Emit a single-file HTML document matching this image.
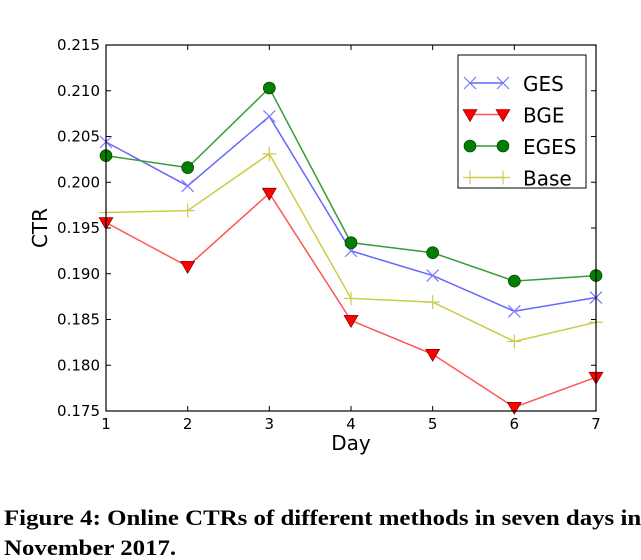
<!DOCTYPE html>
<html><head><meta charset="utf-8"><style>
body{margin:0;background:#fff;width:641px;height:560px;overflow:hidden}
svg{position:absolute;left:0;top:0}
text{font-family:"DejaVu Sans","Liberation Sans",sans-serif}
.cap{position:absolute;left:4px;font-family:"Liberation Serif",serif;font-weight:bold;font-size:22px;line-height:22px;white-space:nowrap;color:#000;transform-origin:0 0;transform:scaleX(1.13)}
</style></head><body>
<svg id="chart" width="641" height="480"></svg>
<div class="cap" style="top:507px">Figure 4: Online CTRs of different methods in seven days in</div>
<div class="cap" style="top:537px">November 2017.</div>
<script>
const days=[1,2,3,4,5,6,7];
const yTicks=[0.175,0.180,0.185,0.190,0.195,0.200,0.205,0.210,0.215];
const ges=[0.2044,0.1996,0.2072,0.1925,0.1898,0.1859,0.1874];
const bge=[0.1956,0.1908,0.1988,0.1849,0.1812,0.1754,0.1787];
const eges=[0.2029,0.2016,0.2103,0.1934,0.1923,0.1892,0.1898];
const base=[0.1967,0.1969,0.2031,0.1873,0.1869,0.1826,0.1847];
const L=106,R=596,T=45,B=411,ymin=0.175,ymax=0.215;
const X=d=>L+(d-1)/6*(R-L);
const Y=v=>B-(v-ymin)/(ymax-ymin)*(B-T);
const svg=document.getElementById('chart');const NS='http://www.w3.org/2000/svg';
function el(t,a,p){const e=document.createElementNS(NS,t);for(const k in a)e.setAttribute(k,a[k]);(p||svg).appendChild(e);return e;}
yTicks.forEach(v=>{const y=Y(v);
const a=el('line',{x1:L,x2:L+5,y1:y,y2:y,stroke:'#000'});
el('line',{x1:R-5,x2:R,y1:y,y2:y,stroke:'#000'});
const t=el('text',{x:L-6,y:y+5,'text-anchor':'end','font-size':15});t.textContent=v.toFixed(3);
});
days.forEach(d=>{const x=X(d);
el('line',{x1:x,x2:x,y1:B,y2:B-5,stroke:'#000'});el('line',{x1:x,x2:x,y1:T,y2:T+5,stroke:'#000'});
const t=el('text',{x:x,y:B+18,'text-anchor':'middle','font-size':15});t.textContent=d;
});
const xt=el('text',{x:(L+R)/2,y:450,'text-anchor':'middle','font-size':20});xt.textContent='Day';

const yt=el('text',{x:0,y:0,'text-anchor':'middle','font-size':20,transform:`translate(47,${(T+B)/2}) rotate(-90)`});yt.textContent='CTR';

function marker(type,x,y,g){
 if(type==='x'){el('path',{d:`M${x-6},${y-6}L${x+6},${y+6}M${x-6},${y+6}L${x+6},${y-6}`,stroke:'#7777ff','stroke-width':1.2,fill:'none'},g);}
 else if(type==='v'){el('path',{d:`M${x-7},${y-5}L${x+7},${y-5}L${x},${y+7}Z`,fill:'#ff0000',stroke:'#600',"stroke-width":0.6},g);}
 else if(type==='o'){el('circle',{cx:x,cy:y,r:6,fill:'#007f00',stroke:'#003000','stroke-width':0.6},g);}
 else {el('path',{d:`M${x-7},${y}L${x+7},${y}M${x},${y-7}L${x},${y+7}`,stroke:'#cccc55','stroke-width':1.2},g);}
}
const series=[['GES',ges,'#6666ff','x'],['BGE',bge,'#ff5555','v'],['EGES',eges,'#3a9a3a','o'],['Base',base,'#cccc44','+']];
series.forEach(([n,vals,c,m])=>{const g=el('g',{});

el('polyline',{points:vals.map((v,i)=>X(days[i])+','+Y(v)).join(' '),fill:'none',stroke:c,'stroke-width':1.5},g);
vals.forEach((v,i)=>marker(m,X(days[i]),Y(v),g));});
el('rect',{x:L,y:T,width:R-L,height:B-T,fill:'none',stroke:'#000','stroke-width':1.2});
const lg=el('g',{});
el('rect',{x:458,y:55,width:128,height:133,fill:'#fff',stroke:'#000'},lg);
series.forEach(([n,vals,c,m],i)=>{const y=85+i*31.5;
el('line',{x1:470,x2:503,y1:y-2,y2:y-2,stroke:c,'stroke-width':1.5},lg);
marker(m,470,y-2,lg);marker(m,503,y-2,lg);
const t=el('text',{x:523,y:y+6,'font-size':20},lg);t.textContent=n;
});
</script>
</body></html>
